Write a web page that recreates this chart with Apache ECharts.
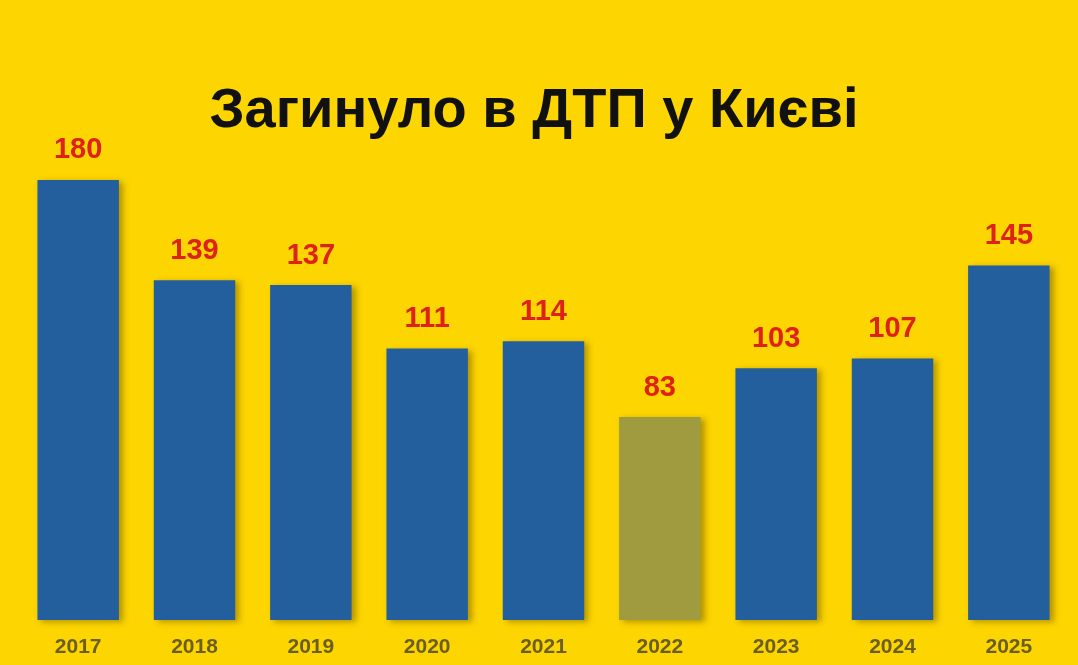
<!DOCTYPE html>
<html>
<head>
<meta charset="utf-8">
<script src="https://cdn.jsdelivr.net/npm/echarts@6/dist/echarts.min.js"></script>
<style>
  html, body { margin: 0; padding: 0; background: #FDD500; }
  #chart { width: 1078px; height: 665px; }
</style>
</head>
<body>
<div id="chart"></div>
<script>
const years = ["2017", "2018", "2019", "2020", "2021", "2022", "2023", "2024", "2025"];
const deaths = [180, 139, 137, 111, 114, 83, 103, 107, 145];
const highlightYear = "2022";

const chart = echarts.init(document.getElementById("chart"));

const option = {
  backgroundColor: "#FDD500",
  title: {
    text: "Загинуло в ДТП у Києві",
    left: 529,
    top: 79,
    textAlign: "center",
    textStyle: {
      fontFamily: "Liberation Sans",
      fontWeight: "bold",
      fontSize: 56,
      color: "#111111",
    },
  },
  grid: { left: 20, right: 11, top: 131, bottom: 45 },
  xAxis: {
    type: "category",
    data: years,
    axisLine: { show: false },
    axisTick: { show: false },
    axisLabel: {
      margin: 17,
      fontFamily: "Liberation Sans",
      fontWeight: "bold",
      fontSize: 21,
      color: "#6A5E20",
    },
  },
  yAxis: {
    type: "value",
    min: 0,
    max: 200,
    show: false,
    splitLine: { show: false },
  },
  series: [
    {
      type: "bar",
      barWidth: "70%",
      data: deaths.map((v, i) => ({
        value: v,
        itemStyle: {
          color: years[i] === highlightYear ? "#A09B3E" : "#235F9C",
        },
      })),
      itemStyle: {
        shadowColor: "rgba(90, 70, 0, 0.45)",
        shadowBlur: 6,
        shadowOffsetX: 4,
        shadowOffsetY: 2,
      },
      label: {
        show: true,
        position: "top",
        distance: 15,
        fontFamily: "Liberation Sans",
        fontWeight: "bold",
        fontSize: 29,
        color: "#DD2219",
      },
    },
  ],
};

chart.setOption(option);
</script>
</body>
</html>
